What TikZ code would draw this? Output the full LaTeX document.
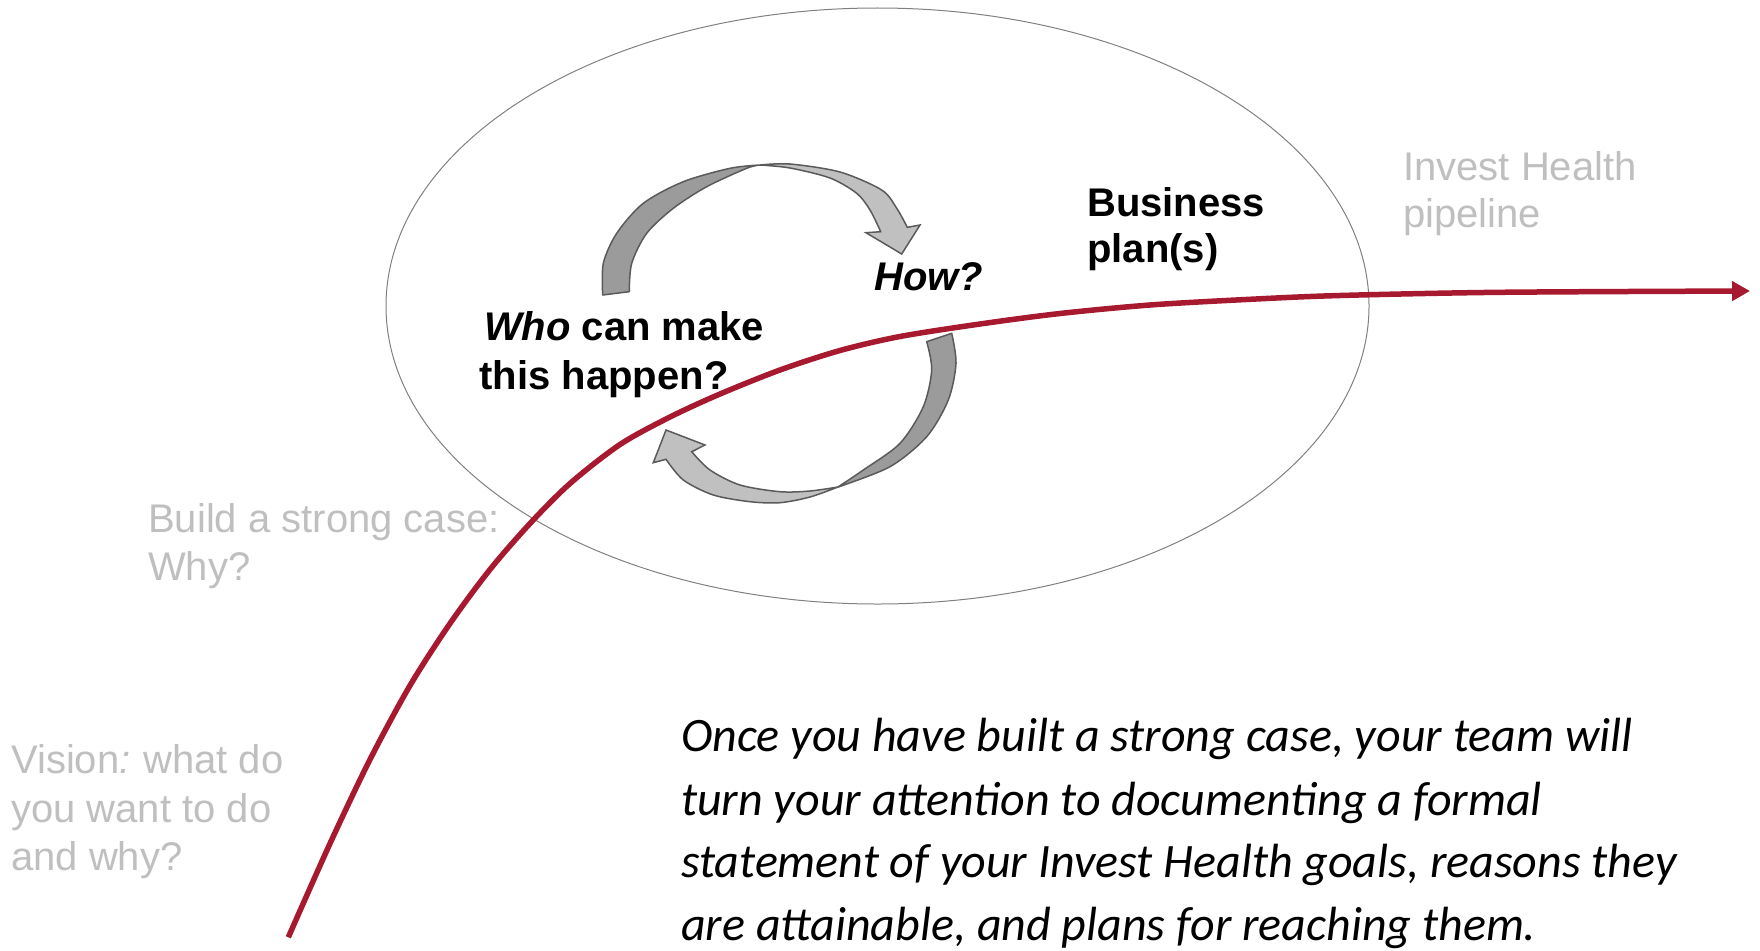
\documentclass[tikz,border=0pt]{standalone}
\usepackage{fontspec}
\setmainfont{Liberation Sans}
\newfontfamily\calib{Carlito}
\usetikzlibrary{arrows.meta}
\definecolor{pipered}{RGB}{166,25,46}
\definecolor{lightgraytext}{RGB}{191,191,191}
\definecolor{arrowdark}{RGB}{155,155,155}
\definecolor{arrowlight}{RGB}{192,192,192}
\definecolor{arrowedge}{RGB}{90,90,90}
\definecolor{ringgray}{RGB}{128,128,128}
\tikzset{
  graylbl/.style={anchor=base west, inner sep=0pt, text=lightgraytext, font=\fontsize{40}{48}\selectfont},
  boldlbl/.style={anchor=base west, inner sep=0pt, font=\fontsize{40}{48}\selectfont\bfseries},
  paraline/.style={anchor=base west, inner sep=0pt, font=\calib\fontsize{48}{63}\selectfont\itshape},
  ribbondark/.style={fill=arrowdark, draw=arrowedge, line width=1.5pt, line join=round},
  ribbonlight/.style={fill=arrowlight, draw=arrowedge, line width=1.5pt, line join=miter},
  ring/.style={draw=ringgray, line width=1pt},
  pipeline/.style={draw=pipered, line width=5.5pt, -{Triangle[length=18pt,width=19pt]}}
}
\begin{document}
\begin{tikzpicture}[x=1pt,y=-1pt]
\useasboundingbox (0,0) rectangle (1760,950);
% ellipse
\draw[ring] (877.5,306) ellipse [x radius=491.5pt, y radius=298pt];
% top circular arrow
\coordinate (c1) at (760,165);
\path[ribbondark] (602.7,295) -- plot[smooth] coordinates {(602.7,295) (603.3,263.3) (616.7,233.3) (643.3,203.3) (683.3,181.7) (730,168.3) (760,165)}
  -- plot[smooth] coordinates {(760,165) (746.7,168.3) (706.7,186.7) (673.3,208.3) (646.7,233.3) (631.7,263.3) (629.3,291.7)} -- cycle;
\path[ribbonlight] (c1) -- plot[smooth] coordinates {(760,165) (790,164) (840,172) (881.7,190) (896.7,208.3) (907.3,227.3)}
  -- (920,225) -- (901.7,254) -- (866,232.7) -- (880.7,231.7)
  -- plot[smooth] coordinates {(880.7,231.7) (870,210) (856.7,193.3) (830,178) (790,168) (760,165)} -- cycle;
% bottom circular arrow
\coordinate (c2) at (838,487);
\path[ribbondark] (926.7,341.7) -- (951.7,333.3) -- plot[smooth] coordinates {(951.7,333.3) (956,363.3) (948.3,400) (926.7,436.7) (890,466.7) (838,487)}
  -- plot[smooth] coordinates {(838,487) (863.3,470) (900,443.3) (923.3,406.7) (931.7,370) (926.7,341.7)} -- cycle;
\path[ribbonlight] (c2) -- plot[smooth] coordinates {(838,487) (810,497) (780,502.7) (750,501.7) (713.3,495) (683.3,480) (666,459.3)}
  -- (653.3,462.7) -- (666,430) -- (705,445) -- (691.7,451.7)
  -- plot[smooth] coordinates {(691.7,451.7) (710,470) (740,485) (780,491.7) (810,491) (838,487)} -- cycle;
% labels
\node[boldlbl] (bp1) at (1087,216.6) {Business};
\node[boldlbl] (bp2) at (1087,262.8) {plan(s)};
\node[boldlbl] (how) at (874,290.5) {\itshape How?};
\node[boldlbl] (who1) at (484,340.7) {\textit{Who} can make};
\node[boldlbl] (who2) at (479.4,389.3) {this happen?};
\node[graylbl] (ih1) at (1403,180) {Invest Health};
\node[graylbl] (ih2) at (1403,227) {pipeline};
\node[graylbl] (bc1) at (148,532) {Build a strong case:};
\node[graylbl] (bc2) at (148,580) {Why?};
\node[graylbl] (vi1) at (11,773) {Vision{\itshape :}\hspace{-2pt} what do};
\node[graylbl] (vi2) at (11,822) {you want to do};
\node[graylbl] (vi3) at (11,870) {and why?};
\node[paraline] (p1) at (681,751.7) {Once you have built a strong case, your team will};
\node[paraline] (p2) at (681,815) {turn your attention to documenting a formal};
\node[paraline] (p3) at (681,877) {statement of your Invest Health goals, reasons they};
\node[paraline] (p4) at (681,940) {are attainable, and plans for reaching them.};
% pipeline curve
\coordinate (pstart) at (288.3,937.3);
\coordinate (pend) at (1750,291);
\draw[pipeline] plot[smooth] coordinates {(pstart) (330,843.5) (370,759.5) (410,685.5) (450,623.5) (490,569.5) (530,523.5) (570,483.5) (620,444.5) (670,417) (720,394) (780,370) (840,350.5) (900,336.5) (980,324) (1060,313.5) (1150,305) (1250,299.3) (1340,295.5) (1500,292.3) (pend)};
\end{tikzpicture}
\end{document}
